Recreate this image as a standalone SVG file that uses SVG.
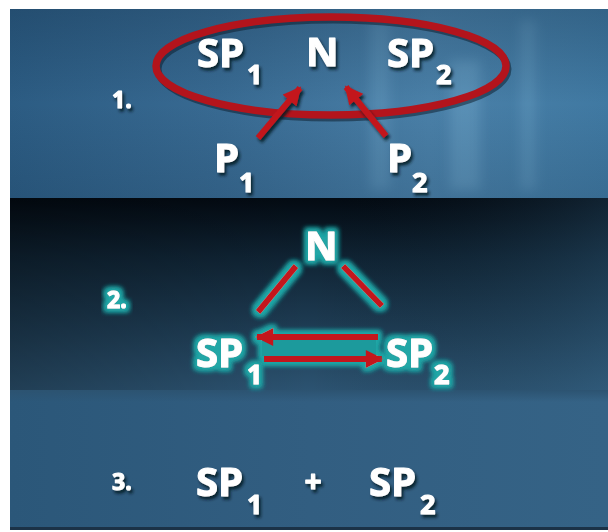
<svg xmlns="http://www.w3.org/2000/svg" width="608" height="532" viewBox="0 0 608 532">
<defs>
<style>
.t{font-family:"Open Sans","Liberation Sans",sans-serif;font-weight:700;fill:#ffffff;stroke:#ffffff;stroke-width:1.1;stroke-linejoin:round}
.big{font-size:40px}
.sub{font-size:27px}
.num{font-size:23px}
.red{stroke:#c3161d;stroke-width:6;fill:none;stroke-linecap:butt}
</style>
<linearGradient id="g1" x1="0" y1="0" x2="1" y2="0">
<stop offset="0" stop-color="#2c5c83"/>
<stop offset="0.35" stop-color="#386a92"/>
<stop offset="0.7" stop-color="#4a80a8"/>
<stop offset="1" stop-color="#4079a2"/>
</linearGradient>
<linearGradient id="g1v" x1="0" y1="0" x2="0" y2="1">
<stop offset="0" stop-color="#0b2238" stop-opacity="0.25"/>
<stop offset="0.5" stop-color="#0b2238" stop-opacity="0"/>
<stop offset="1" stop-color="#0b2238" stop-opacity="0.15"/>
</linearGradient>
<linearGradient id="g2" x1="0" y1="0" x2="0" y2="1">
<stop offset="0" stop-color="#030a12"/>
<stop offset="0.3" stop-color="#0f2333"/>
<stop offset="0.7" stop-color="#1f3e56"/>
<stop offset="1" stop-color="#2c5371"/>
</linearGradient>
<linearGradient id="g2h" x1="0" y1="0" x2="1" y2="0">
<stop offset="0" stop-color="#000000" stop-opacity="0.25"/>
<stop offset="0.5" stop-color="#000000" stop-opacity="0"/>
<stop offset="1" stop-color="#3a6d90" stop-opacity="0.25"/>
</linearGradient>
<linearGradient id="g3" x1="0" y1="0" x2="1" y2="0">
<stop offset="0" stop-color="#2b5779"/>
<stop offset="0.5" stop-color="#325e81"/>
<stop offset="1" stop-color="#356386"/>
</linearGradient>
<linearGradient id="g3v" x1="0" y1="0" x2="0" y2="1">
<stop offset="0" stop-color="#2c5371"/>
<stop offset="1" stop-color="#2c5371" stop-opacity="0"/>
</linearGradient>
<filter id="sh" x="-20%" y="-20%" width="140%" height="150%">
<feDropShadow dx="2" dy="3" stdDeviation="1.6" flood-color="#06121e" flood-opacity="0.85"/>
</filter>
<filter id="glow" x="-30%" y="-30%" width="160%" height="160%">
<feMorphology in="SourceAlpha" operator="dilate" radius="2.5" result="d"/>
<feGaussianBlur in="d" stdDeviation="2.5" result="b"/>
<feFlood flood-color="#21a6a6"/>
<feComposite in2="b" operator="in" result="g"/>
<feMerge><feMergeNode in="g"/><feMergeNode in="g"/><feMergeNode in="SourceGraphic"/></feMerge>
</filter>
<filter id="blur"><feGaussianBlur stdDeviation="6"/></filter>
<marker id="ah" viewBox="0 0 10 10" refX="9" refY="5" markerWidth="3.2" markerHeight="3" orient="auto" markerUnits="strokeWidth">
<path d="M0,0 L10,5 L0,10 z" fill="#c3161d"/>
</marker>
</defs>

<rect x="0" y="0" width="608" height="532" fill="#ffffff"/>

<g id="panel1">
<rect x="10" y="9" width="598" height="189" fill="url(#g1)"/>
<g filter="url(#blur)" opacity="0.35">
<rect x="370" y="20" width="20" height="170" fill="#6fa5c8"/>
<rect x="450" y="60" width="30" height="130" fill="#7ab0d2"/>
<rect x="520" y="20" width="16" height="170" fill="#6fa5c8"/>
</g>
<rect x="10" y="9" width="598" height="189" fill="url(#g1v)"/>
</g>
<g id="panel2">
<rect x="10" y="198" width="598" height="192" fill="url(#g2)"/>
<rect x="10" y="198" width="598" height="192" fill="url(#g2h)"/>
</g>
<g id="panel3">
<rect x="10" y="390" width="598" height="139" fill="url(#g3)"/>
<rect x="10" y="390" width="598" height="12" fill="url(#g3v)"/>
<rect x="10" y="527" width="598" height="3" fill="#1b3247"/>
</g>

<g id="connectors">
<ellipse cx="331" cy="66" rx="175" ry="49" fill="none" stroke="#0a1a28" stroke-opacity="0.5" stroke-width="7" transform="translate(2,3)"/>
<ellipse cx="331" cy="66" rx="175" ry="49" fill="none" stroke="#b3141c" stroke-width="7.5"/>
<g filter="url(#sh)">
<line class="red" x1="258" y1="138" x2="300" y2="88" marker-end="url(#ah)"/>
<line class="red" x1="386" y1="136" x2="346" y2="87" marker-end="url(#ah)"/>
</g>
<g filter="url(#glow)">
<line class="red" x1="296" y1="266" x2="258" y2="312"/>
<line class="red" x1="343" y1="266" x2="382" y2="306"/>
<rect x="262" y="340" width="114" height="16" fill="#1f9a9c"/>
<line class="red" x1="378" y1="337" x2="257" y2="337" marker-end="url(#ah)"/>
<line class="red" x1="264" y1="359" x2="382" y2="359" marker-end="url(#ah)"/>
</g>
</g>

<g id="label1" filter="url(#sh)"><text class="t num" x="112" y="108">1.</text></g>
<g id="p1-sp1" filter="url(#sh)"><text class="t big" x="197" y="67">SP</text><text class="t sub" x="247" y="84">1</text></g>
<g id="p1-n" filter="url(#sh)"><text class="t big" x="306" y="66">N</text></g>
<g id="p1-sp2" filter="url(#sh)"><text class="t big" x="387" y="67">SP</text><text class="t sub" x="436" y="84">2</text></g>
<g id="p1-p1" filter="url(#sh)"><text class="t big" x="214" y="172">P</text><text class="t sub" x="239" y="192">1</text></g>
<g id="p1-p2" filter="url(#sh)"><text class="t big" x="387" y="172">P</text><text class="t sub" x="412" y="192">2</text></g>

<g id="label2" filter="url(#glow)"><text class="t num" x="107" y="308">2.</text></g>
<g id="p2-n" filter="url(#glow)"><text class="t big" x="305" y="260">N</text></g>
<g id="p2-sp1" filter="url(#glow)"><text class="t big" x="196" y="367">SP</text><text class="t sub" x="247" y="384">1</text></g>
<g id="p2-sp2" filter="url(#glow)"><text class="t big" x="386" y="367">SP</text><text class="t sub" x="434" y="384">2</text></g>

<g id="label3" filter="url(#sh)"><text class="t num" x="112" y="490">3.</text></g>
<g id="p3-sp1" filter="url(#sh)"><text class="t big" x="196" y="496">SP</text><text class="t sub" x="247" y="514">1</text></g>
<g id="p3-plus" filter="url(#sh)"><text class="t" font-size="30" x="313" y="492" text-anchor="middle">+</text></g>
<g id="p3-sp2" filter="url(#sh)"><text class="t big" x="369" y="496">SP</text><text class="t sub" x="420" y="514">2</text></g>
</svg>
